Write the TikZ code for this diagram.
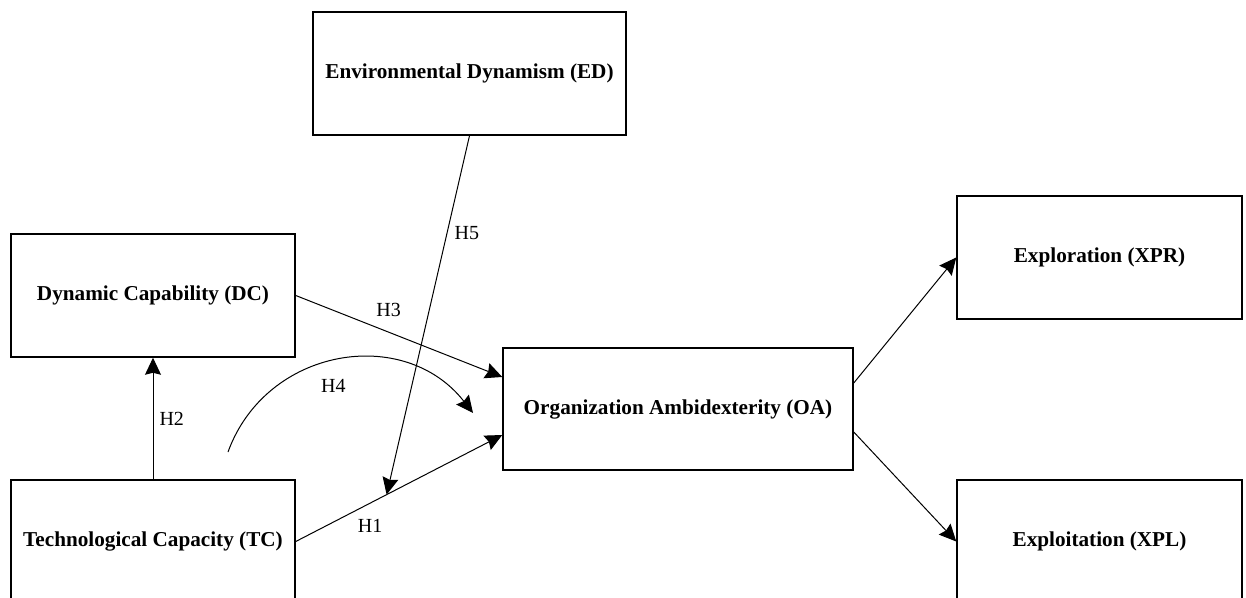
\documentclass[tikz,border=0pt]{standalone}
\usepackage{fontspec}
\setmainfont{Liberation Serif}
\usepackage{tikz}
\usetikzlibrary{arrows.meta}

\begin{document}
\begin{tikzpicture}[->,>={Stealth[length=8.5pt,width=8pt,inset=1pt]},x=0.5pt,y=-0.5pt,
                    line width=0.5pt]
  \tikzstyle{construct}=[draw=black,line width=0.75pt,font=\fontsize{10.6}{12}\selectfont\bfseries,
                         minimum height=61.5pt,inner sep=0pt]
  \tikzstyle{hyp}=[font=\normalfont,inner sep=3pt]

  \useasboundingbox (0,0) rectangle (1246,598);

  \node[construct,minimum width=156.5pt] (ED)  at (469.5,73.5)  {Environmental Dynamism (ED)};
  \node[construct,minimum width=142pt]   (DC)  at (153,295.5)   {Dynamic Capability (DC)};
  \node[construct,minimum width=142pt]   (TC)  at (153,541.5)   {Technological Capacity (TC)};
  \node[construct,minimum width=175pt,minimum height=61pt] (OA) at (678,409) {Organization Ambidexterity (OA)};
  \node[construct,minimum width=142.5pt] (XPR) at (1099.5,257.5) {Exploration (XPR)};
  \node[construct,minimum width=142.5pt] (XPL) at (1099.5,541.5) {Exploitation (XPL)};

  \coordinate (h4s) at (228,452);
  \coordinate (h4e) at (473,413);

  \path (TC.north) edge node[hyp,right=0pt] {H2} (DC.south)
        (TC.east)  edge node[hyp,pos=0.36,below=5pt] {H1}
                        coordinate[pos=0.44] (mod) ([yshift=-13pt]OA.west)
        (DC.east)  edge node[hyp,pos=0.45,above=4.5pt] {H3} ([yshift=16pt]OA.west)
        (OA.east)  ++(0,-26) coordinate (oaup) (OA.east) ++(0,23) coordinate (oadn);
  \path (ED.south) edge node[hyp,pos=0.27,right=0.5pt] {H5} (mod)
        (oaup) edge (XPR.west)
        (oadn) edge (XPL.west);
  \draw (h4s) to[out=70,in=128,looseness=1.15] node[hyp,pos=0.48,below=6pt] {H4} (h4e);
\end{tikzpicture}
\end{document}
